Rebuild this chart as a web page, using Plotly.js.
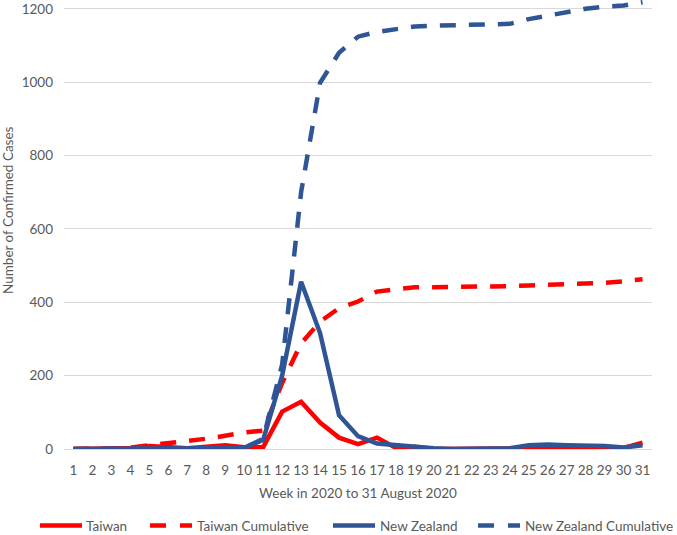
<!DOCTYPE html>
<html>
<head>
<meta charset="utf-8">
<script src="https://cdn.plot.ly/plotly-3.0.1.min.js"></script>
<style>html,body{margin:0;padding:0;background:#fff;}#chart{width:677px;height:535px;}</style>
</head>
<body>
<div id="chart"></div>
<script>
const weeks = ["1","2","3","4","5","6","7","8","9","10","11","12","13","14","15","16","17","18","19","20","21","22","23","24","25","26","27","28","29","30","31"];
const taiwan = [0,0,1,3,8,6,2,6,10,5,5,102,129,72,31,13,31,3,6,0,0,0,1,1,2,1,2,2,3,3,17];
const taiwanCumulative = [0,0,1,4,10,15,20,28,36,45,50,180,288,347,384,402,429,434,441,441,441,442,443,444,446,447,449,451,453,457,463];
const newZealand = [0,0,0,0,0,0,0,0,0,3,25,200,456,316,92,35,15,10,6,2,0,0,1,2,10,12,10,10,8,4,10];
const nzCumulative = [0,0,0,0,0,0,0,0,0,3,28,230,700,998,1080,1124,1137,1146,1152,1154,1155,1155,1156,1159,1172,1181,1193,1200,1206,1209,1218];
const yTicks = [0,200,400,600,800,1000,1200];
const seriesNames = ["Taiwan", "Taiwan Cumulative", "New Zealand", "New Zealand Cumulative"];

const RED = "#FF0000", BLUE = "#2F5597", TXT = "#595959";
const DASH = "16px,13px";
const colors = [RED, RED, BLUE, BLUE];
const dashes = ["solid", DASH, "solid", DASH];
const values = [taiwan, taiwanCumulative, newZealand, nzCumulative];

const traces = values.map((v, i) => ({
  x: weeks, y: v, name: seriesNames[i], mode: "lines", showlegend: false,
  line: {color: colors[i], width: 4.5, dash: dashes[i]}
}));

// legend drawn below the plot (pixel layout -> paper coordinates)
const ML = 64, MR = 25, MT = 0, MB = 86, W = 677, H = 535;
const PW = W - ML - MR, PH = H - MT - MB;
const px = p => (p - ML) / PW;
const py = p => (PH + MT - p) / PH;
const legLineStart = [40, 150, 333, 478];
const legTextStart = [84, 195, 378, 523];
const legY = 525.5;
const shapes = seriesNames.map((n, i) => ({
  type: "line", xref: "paper", yref: "paper",
  x0: px(legLineStart[i]), x1: px(legLineStart[i] + 42), y0: py(legY), y1: py(legY),
  line: {color: colors[i], width: 4.5, dash: dashes[i] === "solid" ? "solid" : "16px,14px"}
}));
const annotations = seriesNames.map((n, i) => ({
  text: n, xref: "paper", yref: "paper", x: px(legTextStart[i]), y: py(legY),
  xanchor: "left", yanchor: "middle", showarrow: false,
  font: {family: "Lato, sans-serif", size: 13.5, color: TXT}
}));
annotations.push({
  text: "Number of Confirmed Cases", xref: "paper", yref: "paper",
  x: px(8), y: py(210), xanchor: "center", yanchor: "middle", textangle: -90, showarrow: false,
  font: {family: "Lato, sans-serif", size: 13.5, color: TXT}
});

const layout = {
  width: W, height: H,
  margin: {l: ML, r: MR, t: MT, b: MB, autoexpand: false},
  paper_bgcolor: "#fff", plot_bgcolor: "#fff",
  font: {family: "Lato, 'Open Sans', sans-serif", size: 13, color: TXT},
  showlegend: false,
  shapes: shapes,
  annotations: annotations,
  xaxis: {type: "category", range: [-0.5, 30.5], showgrid: false, zeroline: false, showline: false, ticks: "", ticklabelstandoff: 11,
          tickfont: {size: 13.5, color: TXT},
          title: {text: "Week in 2020 to 31 August 2020", font: {size: 13.5, color: TXT}, standoff: 12}},
  yaxis: {range: [0, 1224], tickvals: yTicks, ticktext: yTicks.map(String), showgrid: true, gridcolor: "#D9D9D9", gridwidth: 1,
          zeroline: true, zerolinecolor: "#D9D9D9", zerolinewidth: 1, showline: false, ticks: "", ticklabelstandoff: 10,
          tickfont: {size: 13.5, color: TXT}}
};
Plotly.newPlot("chart", traces, layout, {displayModeBar: false, staticPlot: true});
</script>
</body>
</html>
